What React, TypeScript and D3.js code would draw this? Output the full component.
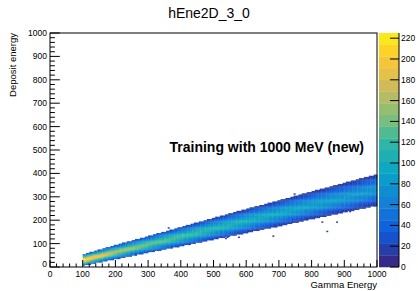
import React, { useEffect, useRef } from 'react';
import * as d3 from 'd3';

const gammaSamples = [100, 200, 300, 400, 500, 600, 700, 800, 900, 1000];
const bandCenter = [30, 64, 97, 130, 164, 197, 230, 264, 297, 330];
const bandHalfWidth = [24, 30, 35, 41, 46, 51, 55, 59, 63, 67];
const bandPeakCount = [225, 165, 140, 125, 112, 103, 96, 90, 84, 80];

// cross-section of the band (offset relative to half width -> share of peak)
const profileOffset = [-1, -0.85, -0.7, -0.5, -0.25, 0, 0.25, 0.5, 0.7, 0.85, 1];
const profileLevel = [0.15, 0.25, 0.4, 0.6, 0.85, 1, 0.85, 0.6, 0.4, 0.25, 0.15];

// lone entries away from the band
const outlierGamma = [263, 361, 538, 544, 578, 606, 682, 694, 743, 746, 786, 832, 847, 878, 917, 994];
const outlierDeposit = [51, 166, 124, 128, 128, 150, 130, 171, 192, 312, 209, 190, 150, 190, 239, 261];

const xTicks = [0, 100, 200, 300, 400, 500, 600, 700, 800, 900, 1000];
const yTicks = [0, 100, 200, 300, 400, 500, 600, 700, 800, 900, 1000];
const zTicks = [0, 20, 40, 60, 80, 100, 120, 140, 160, 180, 200, 220];

// ROOT kBird palette
const birdStops = [0, 0.125, 0.25, 0.375, 0.5, 0.625, 0.75, 0.875, 1];
const birdRed = [0.2082, 0.0592, 0.078, 0.0232, 0.1802, 0.5301, 0.8186, 0.9956, 0.9764];
const birdGreen = [0.1664, 0.3599, 0.5041, 0.6419, 0.7178, 0.7492, 0.7328, 0.7862, 0.9832];
const birdBlue = [0.5293, 0.8684, 0.8385, 0.7914, 0.6425, 0.4662, 0.3499, 0.1968, 0.0539];

const binSize = 5;
const zMax = 225;
const nLevels = 20;
const font = 'Liberation Sans, Arial, Helvetica, sans-serif';

const App = () => {
  const chartRef = useRef<SVGSVGElement>(null);

  useEffect(() => {
    const svg = d3.select(chartRef.current);
    svg.selectAll('*').remove();

    const left = 50, right = 377, top = 33, bottom = 267;
    const x = d3.scaleLinear().domain([0, 1000]).range([left, right]);
    const y = d3.scaleLinear().domain([0, 1000]).range([bottom, top]);
    const z = d3.scaleLinear().domain([0, zMax]).range([bottom, top]);

    const center = d3.scaleLinear().domain(gammaSamples).range(bandCenter);
    const half = d3.scaleLinear().domain(gammaSamples).range(bandHalfWidth);
    const peak = d3.scaleLinear().domain(gammaSamples).range(bandPeakCount);
    const profile = d3.scaleLinear().domain(profileOffset).range(profileLevel);

    const r = d3.scaleLinear().domain(birdStops).range(birdRed);
    const g = d3.scaleLinear().domain(birdStops).range(birdGreen);
    const b = d3.scaleLinear().domain(birdStops).range(birdBlue);
    const levelColor = (i: number) => {
      const t = Math.floor((i * 255) / nLevels) / 254;
      return d3.rgb(r(t) * 255, g(t) * 255, b(t) * 255).toString();
    };
    const countColor = (n: number) =>
      levelColor(Math.min(nLevels - 1, Math.floor(n / (zMax / nLevels))));

    // histogram cells
    const cells: { gx: number; dy: number; n: number }[] = [];
    for (let gx = 100; gx < 1000; gx += binSize) {
      const gc = gx + binSize / 2;
      const c = center(gc), h = half(gc), p = peak(gc);
      const start = Math.floor((c - h) / binSize) * binSize;
      for (let dy = start; dy <= c + h; dy += binSize) {
        const u = (dy + binSize / 2 - c) / h;
        if (Math.abs(u) > 1) continue;
        const n = p * profile(u);
        if (n < 1) continue;
        cells.push({ gx, dy, n });
      }
    }
    outlierGamma.forEach((gv, i) => {
      cells.push({
        gx: Math.floor(gv / binSize) * binSize,
        dy: Math.floor(outlierDeposit[i] / binSize) * binSize,
        n: 12,
      });
    });

    const cw = x(binSize) - x(0);
    const ch = y(0) - y(binSize);
    svg
      .append('g')
      .selectAll('rect')
      .data(cells)
      .enter()
      .append('rect')
      .attr('x', d => x(d.gx))
      .attr('y', d => y(d.dy + binSize))
      .attr('width', cw + 0.3)
      .attr('height', ch + 0.3)
      .attr('fill', d => countColor(d.n));

    // frame
    svg
      .append('rect')
      .attr('x', left)
      .attr('y', top)
      .attr('width', right - left)
      .attr('height', bottom - top)
      .attr('fill', 'none')
      .attr('stroke', '#000')
      .attr('stroke-width', 1);

    // x ticks
    const xAxis = svg.append('g').attr('stroke', '#000').attr('stroke-width', 1);
    d3.range(0, 1001, 20).forEach(v => {
      const major = v % 100 === 0;
      xAxis
        .append('line')
        .attr('x1', x(v))
        .attr('x2', x(v))
        .attr('y1', bottom)
        .attr('y2', bottom - (major ? 7 : 3.5));
    });
    svg
      .append('g')
      .selectAll('text')
      .data(xTicks)
      .enter()
      .append('text')
      .attr('x', d => x(d))
      .attr('y', 276.5)
      .attr('text-anchor', 'middle')
      .attr('font-family', font)
      .attr('font-size', 8.5)
      .text(d => d);

    // y ticks
    const yAxis = svg.append('g').attr('stroke', '#000').attr('stroke-width', 1);
    d3.range(0, 1001, 20).forEach(v => {
      const major = v % 100 === 0;
      yAxis
        .append('line')
        .attr('x1', left)
        .attr('x2', left + (major ? 9.8 : 4.9))
        .attr('y1', y(v))
        .attr('y2', y(v));
    });
    svg
      .append('g')
      .selectAll('text')
      .data(yTicks)
      .enter()
      .append('text')
      .attr('x', 47)
      .attr('y', d => y(d) + (d === 0 ? 0 : 3))
      .attr('text-anchor', 'end')
      .attr('font-family', font)
      .attr('font-size', 8.5)
      .text(d => d);

    // axis titles
    svg
      .append('text')
      .attr('x', right)
      .attr('y', 288)
      .attr('text-anchor', 'end')
      .attr('font-family', font)
      .attr('font-size', 9.5)
      .text('Gamma Energy');
    svg
      .append('text')
      .attr('transform', `translate(15.5,${top}) rotate(-90)`)
      .attr('text-anchor', 'end')
      .attr('font-family', font)
      .attr('font-size', 9.5)
      .text('Deposit energy');

    // title
    svg
      .append('text')
      .attr('x', 209)
      .attr('y', 18)
      .attr('text-anchor', 'middle')
      .attr('font-family', font)
      .attr('font-size', 14)
      .text('hEne2D_3_0');

    // label
    svg
      .append('text')
      .attr('x', 364)
      .attr('y', 152)
      .attr('text-anchor', 'end')
      .attr('font-family', font)
      .attr('font-weight', 'bold')
      .attr('font-size', 14)
      .text('Training with 1000 MeV (new)');

    // palette
    const barLeft = 379, barRight = 399;
    svg
      .append('g')
      .selectAll('rect')
      .data(d3.range(nLevels))
      .enter()
      .append('rect')
      .attr('x', barLeft)
      .attr('y', i => z(((i + 1) * zMax) / nLevels))
      .attr('width', barRight - barLeft)
      .attr('height', i => z((i * zMax) / nLevels) - z(((i + 1) * zMax) / nLevels) + 0.3)
      .attr('fill', i => levelColor(i));
    const zAxis = svg.append('g').attr('stroke', '#000').attr('stroke-width', 1);
    zAxis
      .append('line')
      .attr('x1', barRight)
      .attr('x2', barRight)
      .attr('y1', top)
      .attr('y2', bottom);
    zTicks.forEach(v => {
      zAxis
        .append('line')
        .attr('x1', barRight - 9)
        .attr('x2', barRight)
        .attr('y1', z(v))
        .attr('y2', z(v));
    });
    svg
      .append('g')
      .selectAll('text')
      .data(zTicks)
      .enter()
      .append('text')
      .attr('x', 401)
      .attr('y', d => z(d) + 3)
      .attr('font-family', font)
      .attr('font-size', 8.5)
      .text(d => d);
  }, []);

  return (
    <svg
      ref={chartRef}
      width={418}
      height={291}
      style={{ position: 'absolute', left: 0, top: 0, background: '#fff' }}
    ></svg>
  );
};

export default App;
